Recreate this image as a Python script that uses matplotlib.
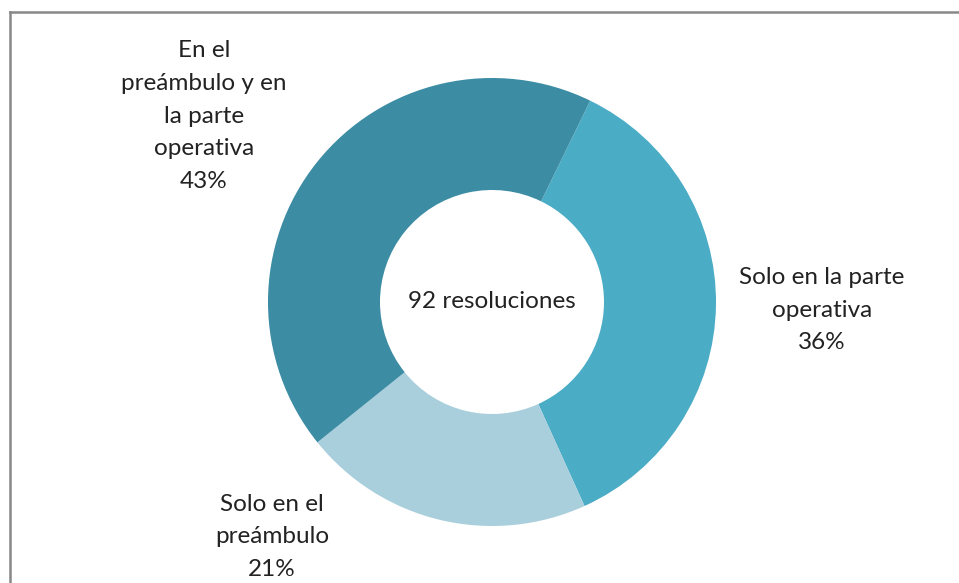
import matplotlib
matplotlib.use("Agg")
from matplotlib import pyplot as plt
from matplotlib.lines import Line2D

# data
labels = ["Solo en la parte\noperativa", "Solo en el\npreámbulo", "En el\npreámbulo y en\nla parte\noperativa"]
shares = [36, 21, 43]
colors = ["#4BACC6", "#A9CFDD", "#3C8CA4"]
center_text = "92 resoluciones"

# where the labels sit (pie radius = 1)
label_pos = [(1.473, -0.036), (-0.982, -1.049), (-1.286, 0.830)]

plt.rcParams['font.family'] = ['Lato', 'DejaVu Sans']

fig = plt.figure(figsize=(9.59, 5.83), dpi=100)
ax = fig.add_axes([0, 0, 1, 1])

ax.pie(shares, colors=colors, startangle=64, counterclock=False,
       radius=1, wedgeprops=dict(width=0.5, edgecolor='none'))

for lab, val, (x, y) in zip(labels, shares, label_pos):
    ax.text(x, y, lab + "\n" + str(val) + "%", ha='center', va='center',
            fontsize=17.5, color='#222222', linespacing=1.68)

ax.text(0, 0, center_text, ha='center', va='center', fontsize=17.5, color='#222222')

# 224 px per unit, pie centre at (492, 302) from top-left
ax.set_xlim(-492 / 224, (959 - 492) / 224)
ax.set_ylim(-(583 - 302) / 224, 302 / 224)
ax.set_aspect('equal')
ax.axis('off')

# chart frame (right and bottom edges are cut off in the original)
W, H = 959, 583
fig.lines.append(Line2D([9.5 / W, 9.5 / W], [0, 1 - 12 / H], transform=fig.transFigure,
                        color='#888888', lw=1.8))
fig.lines.append(Line2D([9.5 / W, 1], [1 - 12 / H, 1 - 12 / H], transform=fig.transFigure,
                        color='#888888', lw=1.8))

fig.savefig("out.png", dpi=100)
plt.close()
